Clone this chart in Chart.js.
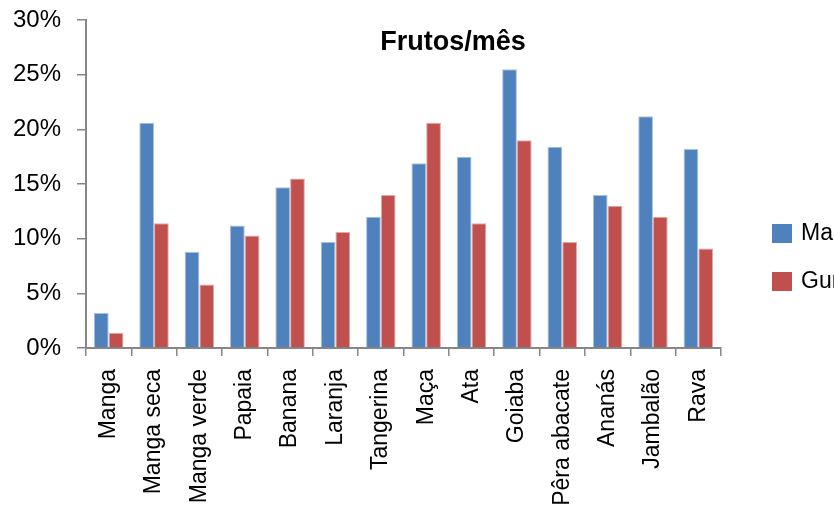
<!DOCTYPE html>
<html>
<head>
<meta charset="utf-8">
<script src="https://cdn.jsdelivr.net/npm/chart.js@4.4.0/dist/chart.umd.min.js"></script>
<style>
  html, body { margin: 0; padding: 0; background: #fff; overflow: hidden; }
  #wrap { width: 834px; height: 518px; position: relative; }
</style>
</head>
<body>
<div id="wrap"><canvas id="c" width="834" height="518"></canvas></div>
<script>
// Fruit consumption share per month, by location (%)
const chartTitle = 'Frutos/mês';
const frutos = ['Manga', 'Manga seca', 'Manga verde', 'Papaia', 'Banana', 'Laranja', 'Tangerina',
                'Maça', 'Ata', 'Goiaba', 'Pêra abacate', 'Ananás', 'Jambalão', 'Rava'];
const seriesNames = ['Maputo', 'Gurué'];
const maputo = [3.2, 20.6, 8.8, 11.2, 14.7, 9.7, 12.0, 16.9, 17.5, 25.5, 18.4, 14.0, 21.2, 18.2];
const gurue  = [1.4, 11.4, 5.8, 10.3, 15.5, 10.6, 14.0, 20.6, 11.4, 19.0, 9.7, 13.0, 12.0, 9.1];
const yTicks = [0, 5, 10, 15, 20, 25, 30];

const FONT = "'Liberation Sans', Arial, sans-serif";
const AXIS = '#868686';

// Title sits over the plot area; legend sits in the right margin
const overlayPlugin = {
  id: 'overlay',
  afterDraw(chart) {
    const ctx = chart.ctx;
    ctx.save();
    ctx.fillStyle = '#000';
    ctx.font = `bold 27px ${FONT}`;
    ctx.textAlign = 'center';
    ctx.textBaseline = 'middle';
    ctx.fillText(chartTitle, 453, 43);

    ctx.font = `23px ${FONT}`;
    ctx.textAlign = 'left';
    chart.data.datasets.forEach((ds, i) => {
      const y = 224 + i * 48;
      ctx.fillStyle = ds.backgroundColor;
      ctx.fillRect(772, y, 20, 19);
      ctx.fillStyle = '#000';
      ctx.fillText(ds.label, 801, y + 10);
    });
    ctx.restore();
  }
};

new Chart(document.getElementById('c'), {
  type: 'bar',
  data: {
    labels: frutos,
    datasets: [
      { label: seriesNames[0], data: maputo, backgroundColor: '#4F81BD', borderColor: '#A9C1E0', borderWidth: 1 },
      { label: seriesNames[1], data: gurue,  backgroundColor: '#C0504D', borderColor: '#E3A9A7', borderWidth: 1 }
    ]
  },
  options: {
    responsive: false,
    animation: false,
    events: [],
    layout: { padding: { top: 20, right: 113, bottom: 0, left: 0 } },
    datasets: { bar: { categoryPercentage: 0.65, barPercentage: 1.0 } },
    plugins: {
      legend: { display: false },
      title: { display: false },
      tooltip: { enabled: false }
    },
    scales: {
      x: {
        afterFit(scale) { scale.height = 170; scale.paddingLeft = 0; scale.paddingRight = 0; },
        border: { display: true, color: AXIS, width: 2 },
        grid: { display: true, drawOnChartArea: false, drawTicks: true, tickLength: 8, color: AXIS, lineWidth: 1.5, offset: true },
        ticks: {
          color: '#000',
          font: { family: FONT, size: 23 },
          minRotation: 90, maxRotation: 90,
          padding: 13,
          autoSkip: false
        }
      },
      y: {
        min: 0, max: 30,
        afterFit(scale) { scale.width = 86; scale.paddingTop = 0; scale.paddingBottom = 0; },
        afterBuildTicks(scale) { scale.ticks = yTicks.map(v => ({ value: v })); },
        border: { display: true, color: AXIS, width: 2 },
        grid: { display: true, drawOnChartArea: false, drawTicks: true, tickLength: 9, color: AXIS, lineWidth: 1.5 },
        ticks: {
          color: '#000',
          font: { family: FONT, size: 24 },
          padding: 16,
          callback: v => v + '%'
        }
      }
    }
  },
  plugins: [overlayPlugin]
});
</script>
</body>
</html>
